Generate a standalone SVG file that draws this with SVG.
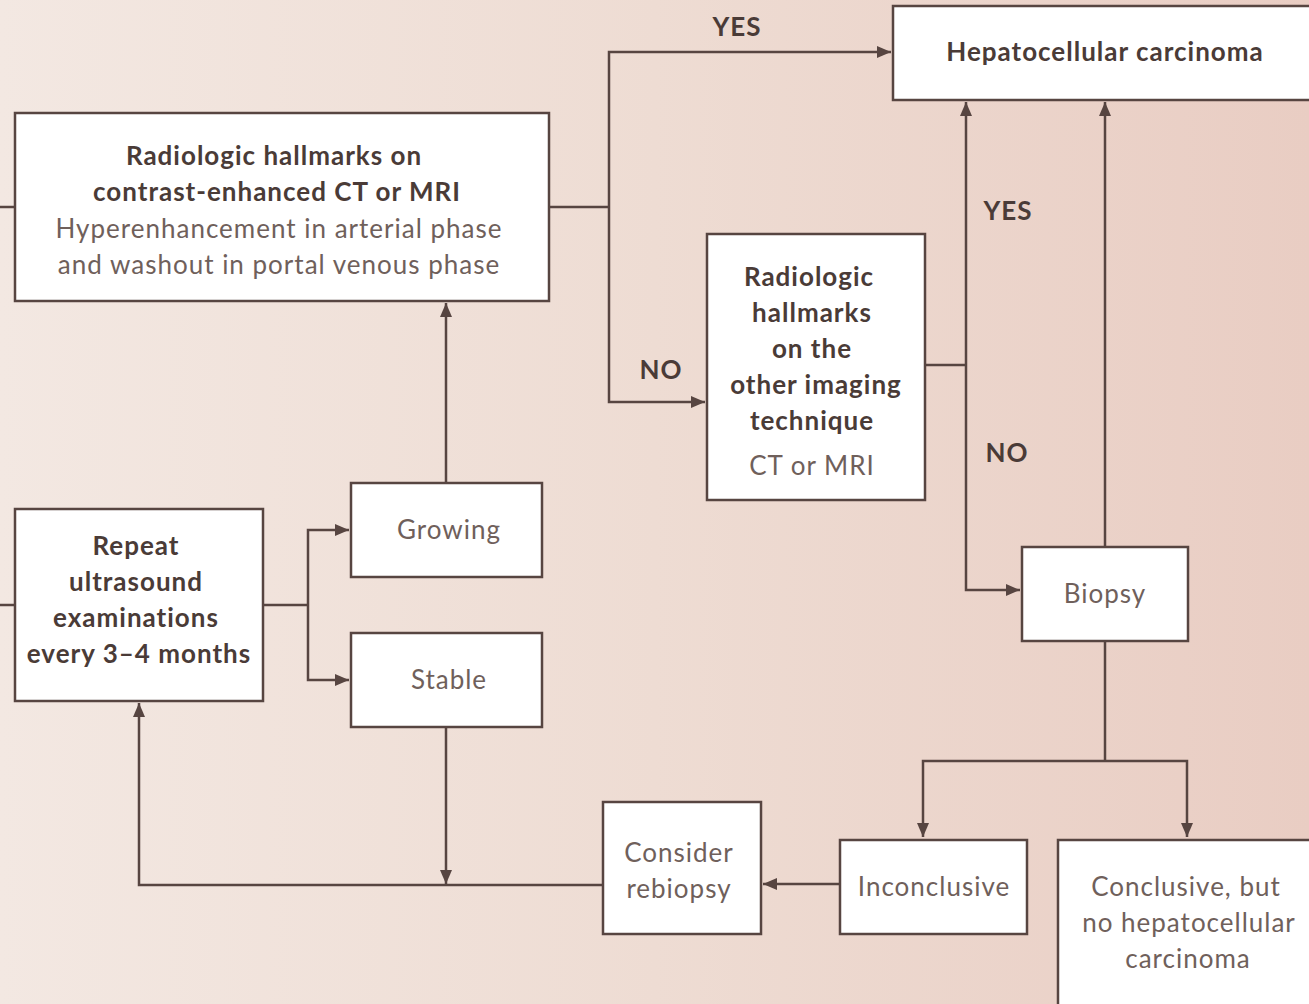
<svg xmlns="http://www.w3.org/2000/svg" width="1309" height="1004" viewBox="0 0 1309 1004">
<defs>
<linearGradient id="bg" x1="0" y1="0" x2="1" y2="0">
<stop offset="0" stop-color="#f3e8e2"/>
<stop offset="0.5" stop-color="#eedcd3"/>
<stop offset="1" stop-color="#e9cdc3"/>
</linearGradient>
<marker id="ah" viewBox="0 0 14 12" refX="14" refY="6" markerWidth="14" markerHeight="12" markerUnits="userSpaceOnUse" orient="auto">
<path d="M0,0 L14,6 L0,12 Z" fill="#574541"/>
</marker>
<style>
.box{fill:#ffffff;stroke:#574541;stroke-width:2.5}
.ln{fill:none;stroke:#574541;stroke-width:2.5}
.b{font-family:Lato,"Open Sans",sans-serif;font-weight:bold;font-size:26px;letter-spacing:1px;fill:#4a3b37;text-anchor:middle}
.r{font-family:Lato,"Open Sans",sans-serif;font-size:26px;letter-spacing:1px;fill:#6f605b;text-anchor:middle}
.lbl{font-family:Lato,"Open Sans",sans-serif;font-weight:bold;font-size:26px;letter-spacing:1px;fill:#4a3b37;text-anchor:middle}
</style>
</defs>
<rect x="0" y="0" width="1309" height="1004" fill="url(#bg)"/>
<g id="connectors">
<path class="ln" d="M0,207 H15"/>
<path class="ln" d="M0,605 H15"/>
<path class="ln" d="M549,207 H609"/>
<path class="ln" d="M609,207 V52 H891" marker-end="url(#ah)"/>
<path class="ln" d="M609,207 V402 H705" marker-end="url(#ah)"/>
<path class="ln" d="M925,365 H966"/>
<path class="ln" d="M966,365 V102" marker-end="url(#ah)"/>
<path class="ln" d="M966,365 V590 H1020" marker-end="url(#ah)"/>
<path class="ln" d="M1105,547 V102" marker-end="url(#ah)"/>
<path class="ln" d="M1105,641 V761"/>
<path class="ln" d="M1105,761 H923 V837" marker-end="url(#ah)"/>
<path class="ln" d="M1105,761 H1187 V837" marker-end="url(#ah)"/>
<path class="ln" d="M840,884 H763" marker-end="url(#ah)"/>
<path class="ln" d="M603,885 H139 V703" marker-end="url(#ah)"/>
<path class="ln" d="M446,727 V884" marker-end="url(#ah)"/>
<path class="ln" d="M263,605 H308"/>
<path class="ln" d="M308,605 V530 H349" marker-end="url(#ah)"/>
<path class="ln" d="M308,605 V680 H349" marker-end="url(#ah)"/>
<path class="ln" d="M446,483 V303" marker-end="url(#ah)"/>
<text class="lbl" x="737" y="36">YES</text>
<text class="lbl" x="661" y="379">NO</text>
<text class="lbl" x="1008" y="220">YES</text>
<text class="lbl" x="1007" y="462">NO</text>
</g>
<g id="node-ct-mri">
<rect class="box" x="15" y="113" width="534" height="188"/>
<text class="b" x="274" y="165">Radiologic hallmarks on</text>
<text class="b" x="277" y="201">contrast-enhanced CT or MRI</text>
<text class="r" x="279" y="238">Hyperenhancement in arterial phase</text>
<text class="r" x="279" y="274">and washout in portal venous phase</text>
</g>
<g id="node-hcc">
<rect class="box" x="893" y="6" width="430" height="94"/>
<text class="b" x="1105" y="61">Hepatocellular carcinoma</text>
</g>
<g id="node-other">
<rect class="box" x="707" y="234" width="218" height="266"/>
<text class="b" x="809" y="286">Radiologic</text>
<text class="b" x="812" y="322">hallmarks</text>
<text class="b" x="812" y="358">on the</text>
<text class="b" x="816" y="394">other imaging</text>
<text class="b" x="812" y="430">technique</text>
<text class="r" x="812" y="475">CT or MRI</text>
</g>
<g id="node-biopsy">
<rect class="box" x="1022" y="547" width="166" height="94"/>
<text class="r" x="1105" y="603">Biopsy</text>
</g>
<g id="node-repeat">
<rect class="box" x="15" y="509" width="248" height="192"/>
<text class="b" x="136" y="555">Repeat</text>
<text class="b" x="136" y="591">ultrasound</text>
<text class="b" x="136" y="627">examinations</text>
<text class="b" x="139" y="663">every 3–4 months</text>
</g>
<g id="node-growing">
<rect class="box" x="351" y="483" width="191" height="94"/>
<text class="r" x="449" y="539">Growing</text>
</g>
<g id="node-stable">
<rect class="box" x="351" y="633" width="191" height="94"/>
<text class="r" x="449" y="689">Stable</text>
</g>
<g id="node-rebiopsy">
<rect class="box" x="603" y="802" width="158" height="132"/>
<text class="r" x="679" y="862">Consider</text>
<text class="r" x="679" y="898">rebiopsy</text>
</g>
<g id="node-inconclusive">
<rect class="box" x="840" y="840" width="187" height="94"/>
<text class="r" x="934" y="896">Inconclusive</text>
</g>
<g id="node-conclusive">
<rect class="box" x="1058" y="840" width="265" height="180"/>
<text class="r" x="1186" y="896">Conclusive, but</text>
<text class="r" x="1189" y="932">no hepatocellular</text>
<text class="r" x="1188" y="968">carcinoma</text>
</g>
</svg>
